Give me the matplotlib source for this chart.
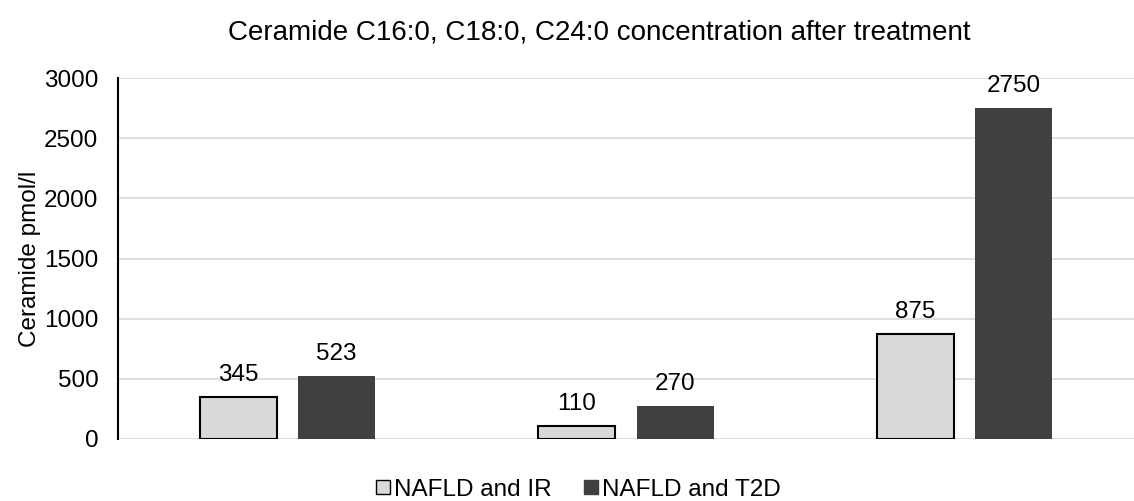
import matplotlib
matplotlib.use("Agg")
import matplotlib.pyplot as plt
import numpy as np
from matplotlib.lines import Line2D

plt.rcParams['font.family'] = ['Liberation Sans', 'DejaVu Sans']

# data
groups = ["C16:0", "C18:0", "C24:0"]
nafld_ir = [345, 110, 875]
nafld_t2d = [523, 270, 2750]
series_names = ["NAFLD and IR", "NAFLD and T2D"]

fig = plt.figure(figsize=(11.34, 5.01), dpi=100)
ax = fig.add_axes([0.104, 0.124, 0.896, 0.720])

x = np.arange(len(groups))
w = 0.227
off = 0.145

b1 = ax.bar(x - off, nafld_ir, w, color='#d9d9d9', edgecolor='black', linewidth=1.5, zorder=3)
b2 = ax.bar(x + off, nafld_t2d, w, color='#404040', edgecolor='none', zorder=3)

for bars, vals in ((b1, nafld_ir), (b2, nafld_t2d)):
    for b, v in zip(bars, vals):
        ax.annotate(str(v), (b.get_x() + b.get_width() / 2, v), xytext=(0, 8),
                    textcoords='offset points', ha='center', va='bottom', fontsize=17.5)

ax.set_xlim(-0.5, 2.5)
ax.set_ylim(0, 3000)
ax.set_yticks(np.arange(0, 3001, 500))
ax.set_xticks([])
ax.tick_params(axis='y', length=0, labelsize=17.5, pad=14)
ax.yaxis.grid(True, color='#d9d9d9', linewidth=1.2, zorder=0)
ax.set_axisbelow(True)
for s in ('top', 'right', 'bottom'):
    ax.spines[s].set_visible(False)
ax.spines['left'].set_linewidth(1.5)
ax.set_ylabel("Ceramide pmol/l", fontsize=17.5, labelpad=2)

fig.text(0.528, 0.935, "Ceramide C16:0, C18:0, C24:0 concentration after treatment",
         ha='center', va='center', fontsize=20)

handles = [Line2D([], [], marker='s', linestyle='none', markersize=10,
                  markerfacecolor='#d9d9d9', markeredgecolor='black', markeredgewidth=1),
           Line2D([], [], marker='s', linestyle='none', markersize=10,
                  markerfacecolor='#404040', markeredgecolor='#404040')]
fig.legend(handles, series_names, loc='center', bbox_to_anchor=(0.509, 0.022), ncol=2,
           frameon=False, fontsize=17.5, handletextpad=0.05, columnspacing=1.2,
           handlelength=0.8)

fig.savefig("out.png", dpi=100)
